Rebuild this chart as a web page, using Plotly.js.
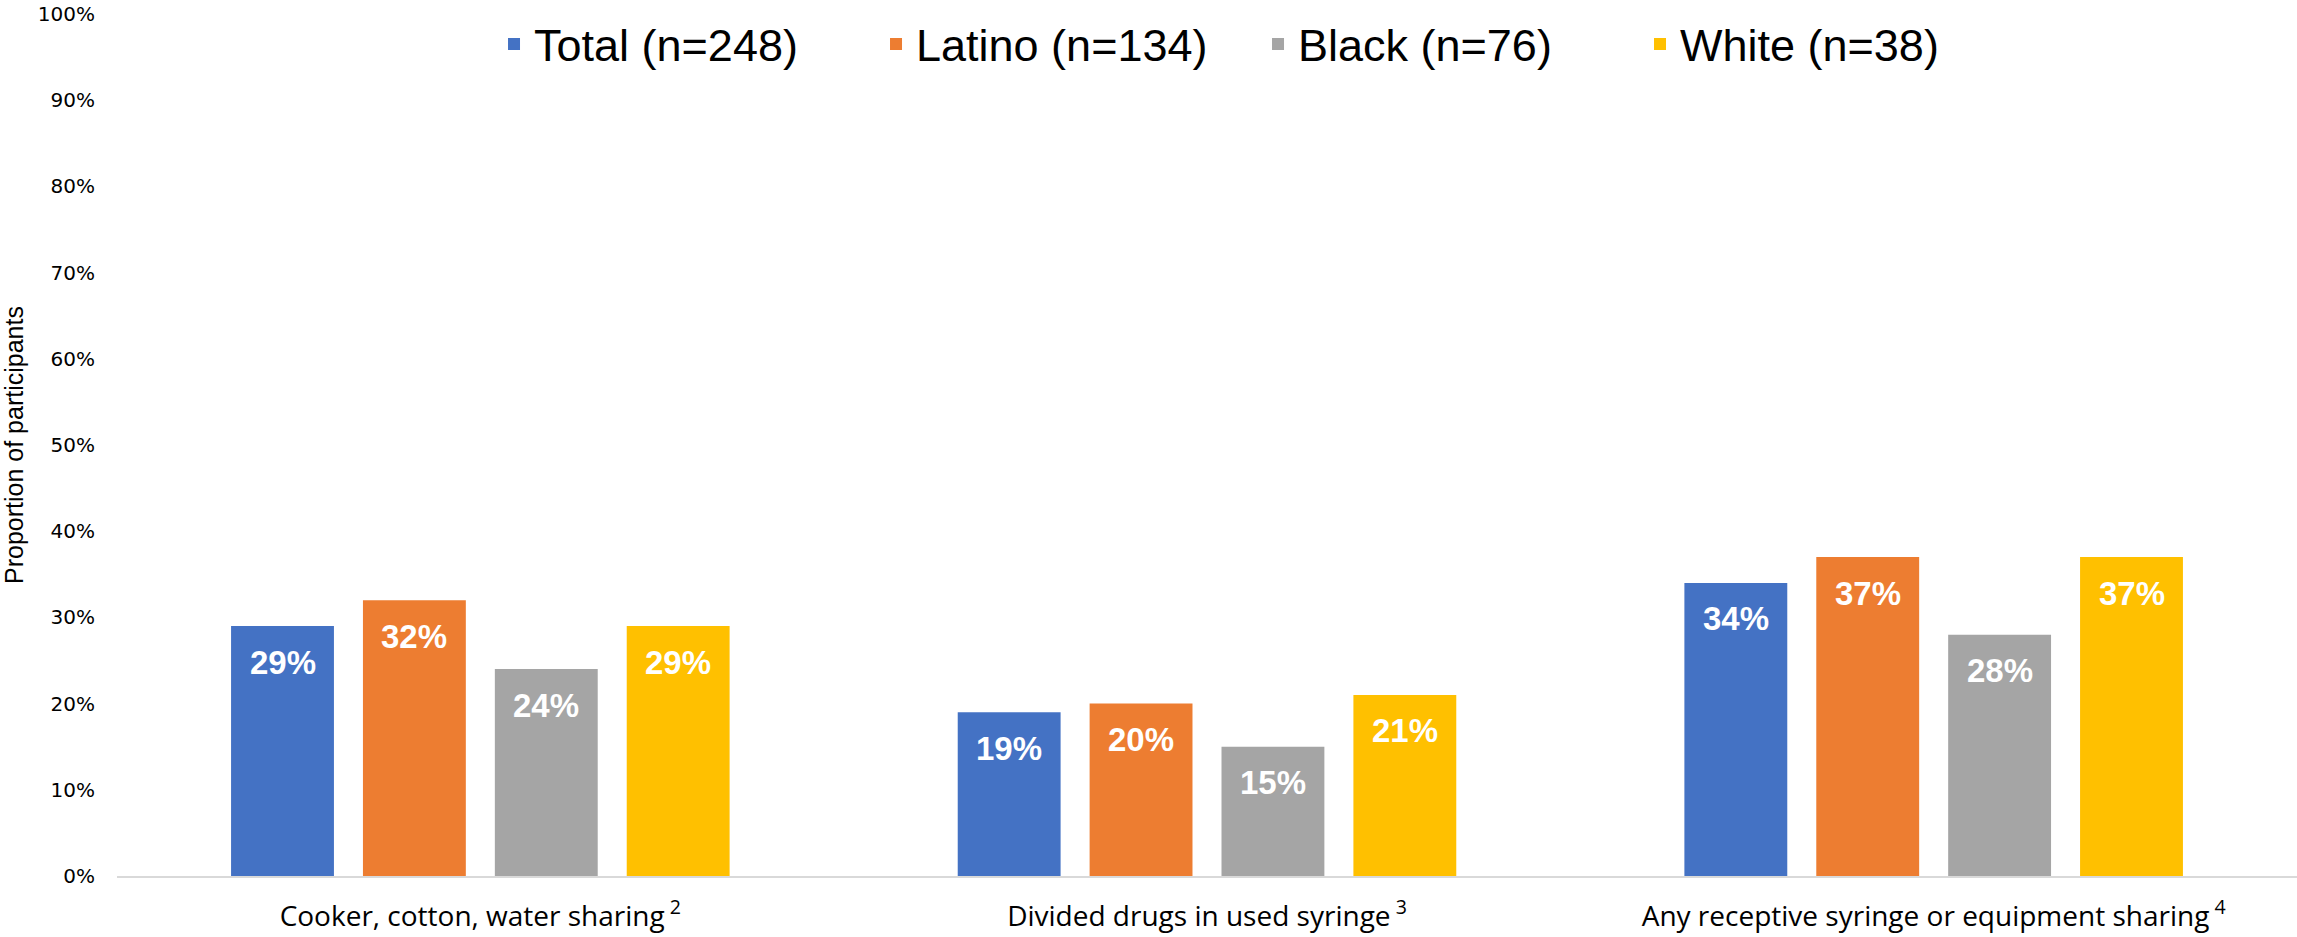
<!DOCTYPE html>
<html>
<head>
<meta charset="utf-8">
<script src="https://cdn.plot.ly/plotly-3.0.1.min.js"></script>
<style>html,body{margin:0;padding:0;background:#fff;}#chart{width:2297px;height:937px;}</style>
</head>
<body>
<div id="chart"></div>
<script>
const categories = [
  "Cooker, cotton, water sharing<sup>\u00a02</sup>",
  "Divided drugs in used syringe<sup>\u00a03</sup>",
  "Any receptive syringe or equipment sharing<sup>\u00a04</sup>"
];
const seriesNames = ["Total (n=248)", "Latino (n=134)", "Black (n=76)", "White (n=38)"];
const seriesColors = ["#4472C4", "#ED7D31", "#A5A5A5", "#FFC000"];
const totalValues  = [29, 19, 34];
const latinoValues = [32, 20, 37];
const blackValues  = [24, 15, 28];
const whiteValues  = [29, 21, 37];
const yTickValues = [0, 10, 20, 30, 40, 50, 60, 70, 80, 90, 100];

const seriesValues = [totalValues, latinoValues, blackValues, whiteValues];
const BARGAP = 0.274;
const BARGROUPGAP = 0.22;
const nSeries = seriesValues.length;
const xIdx = categories.map((c, i) => i);

const traces = seriesValues.map((vals, j) => ({
  type: 'bar',
  name: seriesNames[j],
  x: xIdx,
  y: vals,
  marker: {color: seriesColors[j]},
  hoverinfo: 'skip'
}));

const annotations = [];
const slot = (1 - BARGAP) / nSeries;
seriesValues.forEach((vals, j) => {
  vals.forEach((v, i) => {
    annotations.push({
      x: i + (j - (nSeries - 1) / 2) * slot,
      y: v,
      xref: 'x', yref: 'y',
      text: v + '%',
      showarrow: false,
      yshift: -36,
      font: {family: 'Liberation Sans, Arial, sans-serif', size: 33, color: '#ffffff', weight: 'bold'}
    });
  });
});

const layout = {
  width: 2297, height: 937,
  margin: {l: 117, r: 0, t: 14, b: 61},
  paper_bgcolor: '#ffffff', plot_bgcolor: '#ffffff',
  barmode: 'group',
  bargap: BARGAP,
  bargroupgap: BARGROUPGAP,
  showlegend: true,
  legend: {
    orientation: 'h',
    x: 0.5234, xanchor: 'center',
    y: 0.965, yanchor: 'middle',
    font: {family: 'Liberation Sans, Arial, sans-serif', size: 45, color: '#000000'},
    entrywidth: 337,
    bgcolor: 'rgba(0,0,0,0)'
  },
  xaxis: {
    type: 'linear',
    range: [-0.5, 2.5],
    tickmode: 'array',
    tickvals: xIdx,
    ticktext: categories,
    showgrid: false, zeroline: false,
    showline: true, linecolor: '#d9d9d9', linewidth: 1.5,
    ticks: '',
    ticklabelstandoff: 15,
    tickfont: {family: 'Open Sans, Liberation Sans, Arial, sans-serif', size: 28, color: '#000000'}
  },
  yaxis: {
    range: [0, 100],
    tickmode: 'array',
    tickvals: yTickValues,
    ticktext: yTickValues.map(v => v + '%'),
    showgrid: false, zeroline: false, showline: false,
    ticks: '',
    ticklabelstandoff: 21,
    tickfont: {family: 'DejaVu Sans, sans-serif', size: 20, color: '#000000'},
    title: {
      text: 'Proportion of participants',
      font: {family: 'Liberation Sans Narrow, Liberation Sans, Arial, sans-serif', size: 25, color: '#000000'},
      standoff: 10
    },
    automargin: false
  },
  annotations: annotations
};

Plotly.newPlot('chart', traces, layout, {displayModeBar: false, staticPlot: true});
</script>
</body>
</html>
